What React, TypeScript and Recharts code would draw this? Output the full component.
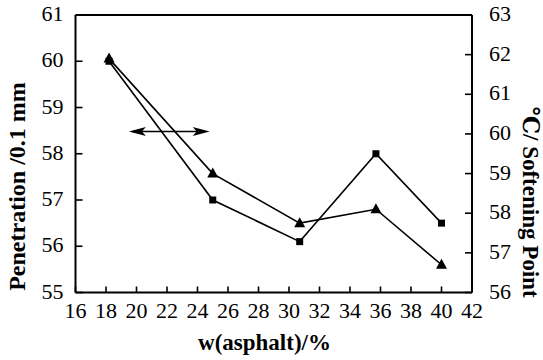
import React from 'react';
import { LineChart, Line, XAxis, YAxis, ReferenceLine } from 'recharts';

// asphalt content (x) and the two measured properties
const asphalt = [18.2, 25, 30.7, 35.7, 40];
const penetration = [60, 57, 56.1, 58, 56.5];
const softening = [61.9, 59.0, 57.75, 58.1, 56.7];

const xTicks = [16, 18, 20, 22, 24, 26, 28, 30, 32, 34, 36, 38, 40, 42];
const leftTicks = [55, 56, 57, 58, 59, 60, 61];
const rightTicks = [56, 57, 58, 59, 60, 61, 62, 63];

// double-headed arrow pointing at the penetration axis
const arrowX = [19.5, 24.8];
const arrowY = 58.48;

const data = asphalt.map((w, i) => ({ w, pen: penetration[i], soft: softening[i] }));

const FONT = 'Liberation Serif, DejaVu Serif, serif';

const LeftTick = (props: any) => {
  const { x, y, payload } = props;
  const ax = x + 12;
  return (
    <g>
      <line x1={ax} y1={y} x2={ax + 7} y2={y} stroke="#000" strokeWidth={1.6} />
      <text x={x} y={y + 6} textAnchor="end" style={{ fontFamily: FONT, fontSize: 22 }} fill="#000">
        {payload.value}
      </text>
    </g>
  );
};

const RightTick = (props: any) => {
  const { x, y, payload } = props;
  const ax = x - 17;
  return (
    <g>
      <line x1={ax} y1={y} x2={ax - 7} y2={y} stroke="#000" strokeWidth={1.6} />
      <text x={x} y={y + 6} textAnchor="start" style={{ fontFamily: FONT, fontSize: 22 }} fill="#000">
        {payload.value}
      </text>
    </g>
  );
};

const BottomTick = (props: any) => {
  const { x, y, payload } = props;
  return (
    <g>
      <line x1={x} y1={y} x2={x} y2={y - 6} stroke="#000" strokeWidth={1.6} />
      <text x={x} y={y + 25.5} textAnchor="middle" style={{ fontFamily: FONT, fontSize: 22 }} fill="#000">
        {payload.value}
      </text>
    </g>
  );
};

const SquareDot = (props: any) => {
  const { cx, cy, index } = props;
  if (cx == null || cy == null) return <g key={index} />;
  return <rect key={index} x={cx - 3.5} y={cy - 3.5} width={7} height={7} fill="#000" />;
};

const TriangleDot = (props: any) => {
  const { cx, cy, index } = props;
  if (cx == null || cy == null) return <g key={index} />;
  return <path key={index} d={`M${cx},${cy - 6} L${cx + 5.5},${cy + 4} L${cx - 5.5},${cy + 4} Z`} fill="#000" />;
};

const Arrow = (props: any) => {
  const { x1, y1, x2, y2 } = props;
  const len = 17;
  const half = 4.5;
  return (
    <g>
      <line x1={x1 + 4} y1={y1} x2={x2 - 4} y2={y2} stroke="#000" strokeWidth={1.4} />
      <path d={`M${x1},${y1} L${x1 + len},${y1 - half} L${x1 + len - 4},${y1} L${x1 + len},${y1 + half} Z`} fill="#000" />
      <path d={`M${x2},${y2} L${x2 - len},${y2 - half} L${x2 - len + 4},${y2} L${x2 - len},${y2 + half} Z`} fill="#000" />
    </g>
  );
};

const titleStyle = { fontFamily: FONT, fontWeight: 'bold' as const };

export default function App() {
  return (
    <div style={{ position: 'absolute', left: 0, top: 0, width: 543, height: 360, background: '#fff', fontFamily: FONT }}>
      <LineChart
        width={543}
        height={360}
        data={data}
        margin={{ top: 15, right: 11, left: 15.5, bottom: 27.5 }}
      >
        <XAxis
          dataKey="w"
          type="number"
          domain={[16, 42]}
          ticks={xTicks}
          interval={0}
          height={40}
          tickSize={0}
          tickMargin={0}
          tickLine={false}
          axisLine={{ stroke: '#000', strokeWidth: 2 }}
          tick={<BottomTick />}
        />
        <YAxis
          yAxisId="left"
          domain={[55, 61]}
          ticks={leftTicks}
          interval={0}
          width={60}
          tickSize={0}
          tickMargin={12}
          tickLine={false}
          axisLine={{ stroke: '#000', strokeWidth: 2 }}
          tick={<LeftTick />}
        />
        <YAxis
          yAxisId="right"
          orientation="right"
          domain={[56, 63]}
          ticks={rightTicks}
          interval={0}
          width={60}
          tickSize={0}
          tickMargin={17}
          tickLine={false}
          axisLine={{ stroke: '#000', strokeWidth: 2 }}
          tick={<RightTick />}
        />
        <ReferenceLine yAxisId="left" y={61} stroke="#000" strokeWidth={2} />
        <ReferenceLine
          yAxisId="left"
          segment={[{ x: arrowX[0], y: arrowY }, { x: arrowX[1], y: arrowY }]}
          shape={(p: any) => <Arrow {...p} />}
        />
        <Line
          yAxisId="left"
          dataKey="pen"
          stroke="#000"
          strokeWidth={1.6}
          dot={(p: any) => <SquareDot key={p.index} {...p} />}
          activeDot={false}
          isAnimationActive={false}
        />
        <Line
          yAxisId="right"
          dataKey="soft"
          stroke="#000"
          strokeWidth={1.6}
          dot={(p: any) => <TriangleDot key={p.index} {...p} />}
          activeDot={false}
          isAnimationActive={false}
        />
      </LineChart>
      <svg width={543} height={360} style={{ position: 'absolute', left: 0, top: 0, pointerEvents: 'none' }}>
        <text
          transform="translate(25,186.5) rotate(-90)"
          textAnchor="middle"
          style={{ ...titleStyle, fontSize: 24 }}
          fill="#000"
        >
          Penetration /0.1 mm
        </text>
        <text
          transform="translate(523,202) rotate(90)"
          textAnchor="middle"
          style={{ ...titleStyle, fontSize: 23 }}
          fill="#000"
        >
          ℃/ Softening Point
        </text>
        <text x={264.5} y={350} textAnchor="middle" style={{ ...titleStyle, fontSize: 23 }} fill="#000">
          w(asphalt)/%
        </text>
      </svg>
    </div>
  );
}
